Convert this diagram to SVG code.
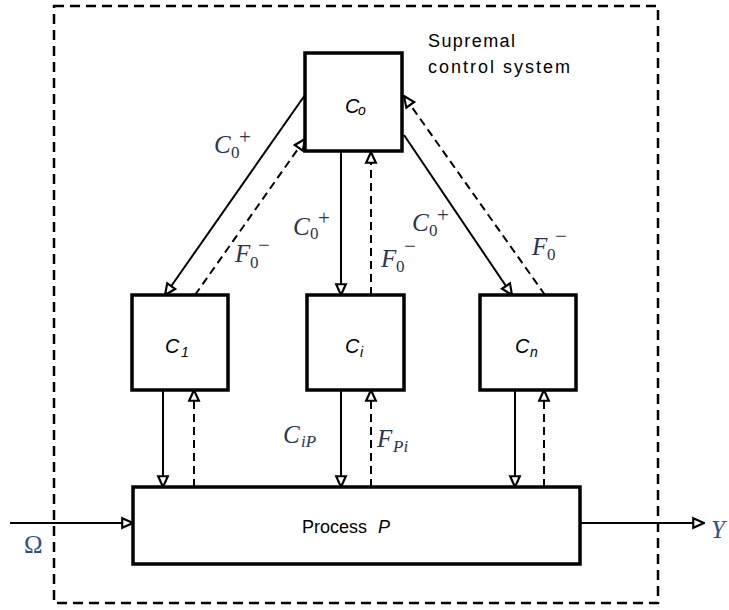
<svg xmlns="http://www.w3.org/2000/svg" width="729" height="610" viewBox="0 0 729 610">
<style>
.box{fill:#fff;stroke:#000;stroke-width:3.5}
.ln{fill:none;stroke:#000;stroke-width:2}
.dash{stroke-dasharray:8 5}
.sans{font-family:"Liberation Sans",Arial,sans-serif;fill:#000}
.bl{font-family:"Liberation Sans",Arial,sans-serif;font-style:italic;fill:#000;font-size:20px}
.bl tspan{font-size:14px}
.m{font-family:"Liberation Serif","Times New Roman",serif;fill:#2b3552;font-size:25px;font-style:italic}
.m .s{font-size:17px;font-style:normal}
.m .p{font-size:21px;font-style:normal}
.m .si{font-size:17px;font-style:italic}
.blue{fill:#2c4f8c}
.up{font-style:normal}
</style>
<defs>
<marker id="ah" markerUnits="userSpaceOnUse" markerWidth="14" markerHeight="14" viewBox="-1 -1 13 13" refX="11" refY="5.5" orient="auto">
<path d="M1,1 L11,5.5 L1,10 Z" fill="#fff" stroke="#000" stroke-width="2"/>
</marker>
</defs>
<rect x="54" y="6" width="604" height="597" fill="none" stroke="#000" stroke-width="2.5" stroke-dasharray="10 6"/>
<g id="connectors">
<line class="ln" x1="305" y1="95" x2="165" y2="295" marker-end="url(#ah)"/>
<line class="ln dash" x1="195" y1="295" x2="305" y2="139" marker-end="url(#ah)"/>
<line class="ln" x1="341" y1="152" x2="341" y2="295" marker-end="url(#ah)"/>
<line class="ln dash" x1="371" y1="295" x2="371" y2="152" marker-end="url(#ah)"/>
<line class="ln" x1="404" y1="135" x2="512" y2="295" marker-end="url(#ah)"/>
<line class="ln dash" x1="545" y1="295" x2="404" y2="96" marker-end="url(#ah)"/>
<line class="ln" x1="163" y1="390" x2="163" y2="487" marker-end="url(#ah)"/>
<line class="ln dash" x1="194" y1="487" x2="194" y2="390" marker-end="url(#ah)"/>
<line class="ln" x1="341" y1="390" x2="341" y2="487" marker-end="url(#ah)"/>
<line class="ln dash" x1="371" y1="487" x2="371" y2="390" marker-end="url(#ah)"/>
<line class="ln" x1="515" y1="390" x2="515" y2="487" marker-end="url(#ah)"/>
<line class="ln dash" x1="544" y1="487" x2="544" y2="390" marker-end="url(#ah)"/>
<line class="ln" x1="10" y1="523" x2="133" y2="523" marker-end="url(#ah)"/>
<line class="ln" x1="580" y1="523" x2="704" y2="523" marker-end="url(#ah)"/>
</g>
<g id="C0">
<rect class="box" x="305" y="53" width="97" height="98"/>
<text class="bl" x="345" y="113">C<tspan x="358" y="115">o</tspan></text>
</g>
<g id="C1">
<rect class="box" x="132" y="295" width="96" height="95"/>
<text class="bl" x="165" y="353">C<tspan x="181" y="357">1</tspan></text>
</g>
<g id="Ci">
<rect class="box" x="307" y="295" width="97" height="95"/>
<text class="bl" x="345" y="353">C<tspan x="360" y="357">i</tspan></text>
</g>
<g id="Cn">
<rect class="box" x="480" y="295" width="96" height="95"/>
<text class="bl" x="515" y="353">C<tspan x="530" y="357">n</tspan></text>
</g>
<g id="P">
<rect class="box" x="133" y="487" width="447" height="77"/>
<text class="sans" x="302" y="533" font-size="18">Process <tspan x="378" font-style="italic">P</tspan></text>
</g>
<g id="labels">
<text class="sans" x="428" y="47" font-size="18" textLength="87">Supremal</text>
<text class="sans" x="428" y="73" font-size="18" textLength="142">control system</text>
<text class="m" x="214" y="153">C<tspan class="s" x="231" y="158">0</tspan><tspan class="p" x="239" y="144">+</tspan></text>
<text class="m" x="293" y="235">C<tspan class="s" x="310" y="239">0</tspan><tspan class="p" x="318" y="225">+</tspan></text>
<text class="m" x="412" y="231">C<tspan class="s" x="429" y="236">0</tspan><tspan class="p" x="437" y="222">+</tspan></text>
<text class="m" x="235" y="262">F<tspan class="s" x="250" y="268">0</tspan><tspan class="p" x="258" y="252">−</tspan></text>
<text class="m" x="381" y="267">F<tspan class="s" x="396" y="272">0</tspan><tspan class="p" x="404" y="253">−</tspan></text>
<text class="m" x="532" y="255">F<tspan class="s" x="547" y="260">0</tspan><tspan class="p" x="555" y="243">−</tspan></text>
<text class="m" x="283" y="443">C<tspan class="si" x="301" y="447">iP</tspan></text>
<text class="m" x="377" y="447">F<tspan class="si" x="393" y="452">Pi</tspan></text>
<text class="m blue up" x="24" y="553">Ω</text>
<text class="m blue" x="711" y="538">Y</text>
</g>
</svg>
